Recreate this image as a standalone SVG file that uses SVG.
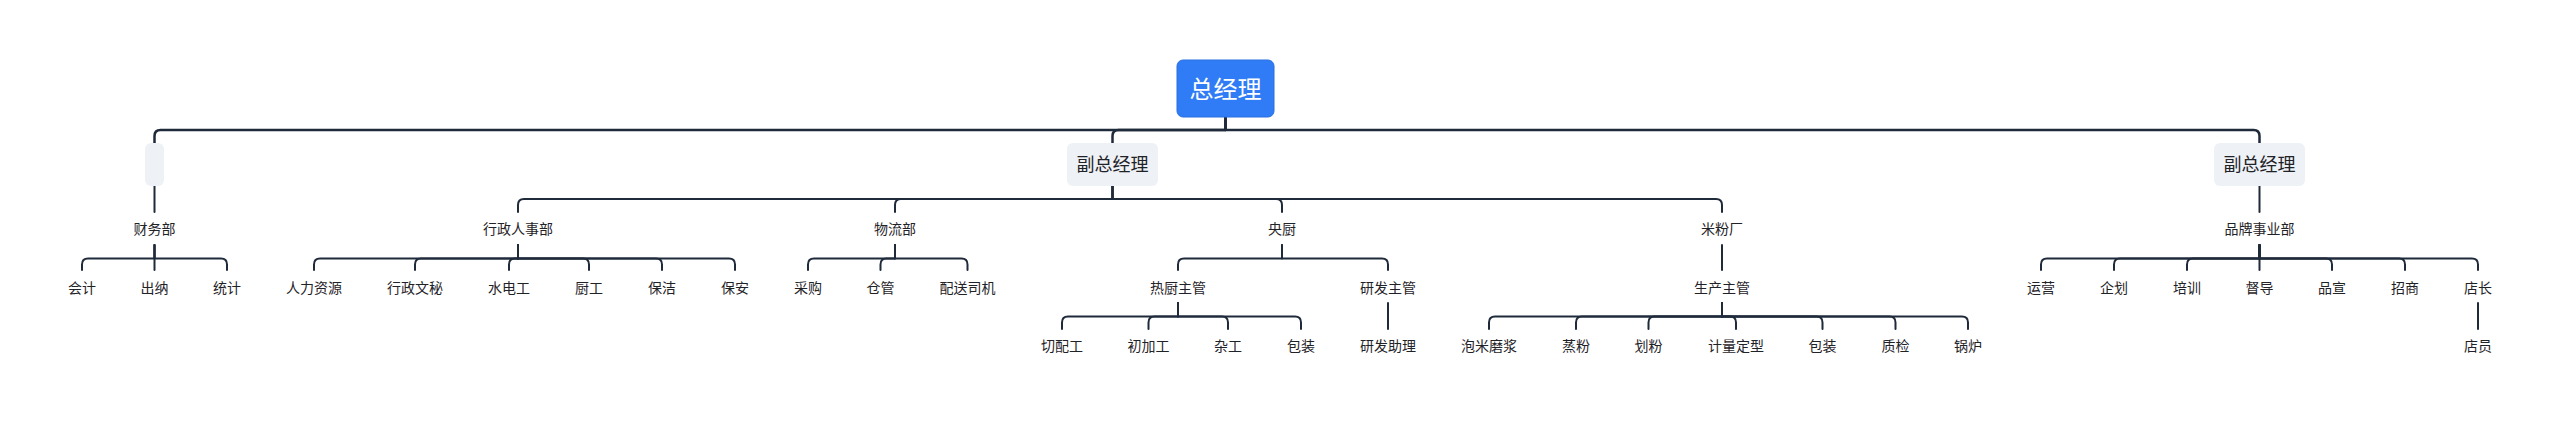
<svg xmlns="http://www.w3.org/2000/svg" width="2560" height="423" viewBox="0 0 2560 423">
<style>
.bg{fill:#ffffff}
.edge{fill:none;stroke:#1f2a3b;stroke-width:2;stroke-linecap:round;stroke-linejoin:round}
.edge0{stroke-width:2.5}
.root{fill:#2f7cf6;stroke:#2a6fe0;stroke-width:1}
.sub{fill:#eef1f5}
.t{font-family:"Noto Sans CJK SC","Noto Sans",sans-serif;fill:#1f2328;text-anchor:middle}
.t24{font-size:24px;fill:#ffffff}
.t18{font-size:18px}
.t14{font-size:14px}
</style>
<rect class="bg" x="0" y="0" width="2560" height="423"/>
<g id="connectors">
<path class="edge edge0" d="M1225.5 117 V130 H160.5 Q154.5 130 154.5 136 V143"/>
<path class="edge edge0" d="M1225.5 117 V130 H1118.5 Q1112.5 130 1112.5 136 V143"/>
<path class="edge edge0" d="M1225.5 117 V130 H2253.5 Q2259.5 130 2259.5 136 V143"/>
<path class="edge" d="M154.5 186 V212"/>
<path class="edge" d="M1112.5 186 V199 H524 Q518 199 518 205 V212"/>
<path class="edge" d="M1112.5 186 V199 H901 Q895 199 895 205 V212"/>
<path class="edge" d="M1112.5 186 V199 H1276 Q1282 199 1282 205 V212"/>
<path class="edge" d="M1112.5 186 V199 H1716 Q1722 199 1722 205 V212"/>
<path class="edge" d="M2259.5 186 V212"/>
<path class="edge" d="M154.5 245 V258.5 H88 Q82 258.5 82 264.5 V270"/>
<path class="edge" d="M154.5 245 V270"/>
<path class="edge" d="M154.5 245 V258.5 H221 Q227 258.5 227 264.5 V270"/>
<path class="edge" d="M518 245 V258.5 H320 Q314 258.5 314 264.5 V270"/>
<path class="edge" d="M518 245 V258.5 H421 Q415 258.5 415 264.5 V270"/>
<path class="edge" d="M518 245 V258.5 H515 Q509 258.5 509 264.5 V270"/>
<path class="edge" d="M518 245 V258.5 H583 Q589 258.5 589 264.5 V270"/>
<path class="edge" d="M518 245 V258.5 H656 Q662 258.5 662 264.5 V270"/>
<path class="edge" d="M518 245 V258.5 H729 Q735 258.5 735 264.5 V270"/>
<path class="edge" d="M895 245 V258.5 H814 Q808 258.5 808 264.5 V270"/>
<path class="edge" d="M895 245 V258.5 H886.5 Q880.5 258.5 880.5 264.5 V270"/>
<path class="edge" d="M895 245 V258.5 H961.5 Q967.5 258.5 967.5 264.5 V270"/>
<path class="edge" d="M1282 245 V258.5 H1184 Q1178 258.5 1178 264.5 V270"/>
<path class="edge" d="M1282 245 V258.5 H1382 Q1388 258.5 1388 264.5 V270"/>
<path class="edge" d="M1722 245 V270"/>
<path class="edge" d="M2259.5 245 V258.5 H2047 Q2041 258.5 2041 264.5 V270"/>
<path class="edge" d="M2259.5 245 V258.5 H2120 Q2114 258.5 2114 264.5 V270"/>
<path class="edge" d="M2259.5 245 V258.5 H2193 Q2187 258.5 2187 264.5 V270"/>
<path class="edge" d="M2259.5 245 V270"/>
<path class="edge" d="M2259.5 245 V258.5 H2326 Q2332 258.5 2332 264.5 V270"/>
<path class="edge" d="M2259.5 245 V258.5 H2399 Q2405 258.5 2405 264.5 V270"/>
<path class="edge" d="M2259.5 245 V258.5 H2472 Q2478 258.5 2478 264.5 V270"/>
<path class="edge" d="M1178 303 V316.5 H1068 Q1062 316.5 1062 322.5 V329"/>
<path class="edge" d="M1178 303 V316.5 H1154.5 Q1148.5 316.5 1148.5 322.5 V329"/>
<path class="edge" d="M1178 303 V316.5 H1222 Q1228 316.5 1228 322.5 V329"/>
<path class="edge" d="M1178 303 V316.5 H1295 Q1301 316.5 1301 322.5 V329"/>
<path class="edge" d="M1388 303 V329"/>
<path class="edge" d="M1722 303 V316.5 H1495 Q1489 316.5 1489 322.5 V329"/>
<path class="edge" d="M1722 303 V316.5 H1582 Q1576 316.5 1576 322.5 V329"/>
<path class="edge" d="M1722 303 V316.5 H1654.5 Q1648.5 316.5 1648.5 322.5 V329"/>
<path class="edge" d="M1722 303 V316.5 H1730 Q1736 316.5 1736 322.5 V329"/>
<path class="edge" d="M1722 303 V316.5 H1816.5 Q1822.5 316.5 1822.5 322.5 V329"/>
<path class="edge" d="M1722 303 V316.5 H1889.5 Q1895.5 316.5 1895.5 322.5 V329"/>
<path class="edge" d="M1722 303 V316.5 H1962 Q1968 316.5 1968 322.5 V329"/>
<path class="edge" d="M2478 303 V329"/>
</g>
<g id="n-root"><rect class="root" x="1177" y="60" width="97" height="57" rx="6"/><text class="t t24" x="1225.5" y="97.5">总经理</text></g>
<g id="n-empty"><rect class="sub" x="145" y="143" width="19" height="43" rx="6"/></g>
<g id="n-vp1"><rect class="sub" x="1067" y="143" width="91" height="43" rx="6"/><text class="t t18" x="1112.5" y="171.3">副总经理</text></g>
<g id="n-vp2"><rect class="sub" x="2214" y="143" width="91" height="43" rx="6"/><text class="t t18" x="2259.5" y="171.3">副总经理</text></g>
<g id="n-caiwu"><text class="t t14" x="154.5" y="234.3">财务部</text></g>
<g id="n-xingzheng"><text class="t t14" x="518" y="234.3">行政人事部</text></g>
<g id="n-wuliu"><text class="t t14" x="895" y="234.3">物流部</text></g>
<g id="n-yangchu"><text class="t t14" x="1282" y="234.3">央厨</text></g>
<g id="n-mifen"><text class="t t14" x="1722" y="234.3">米粉厂</text></g>
<g id="n-pinpai"><text class="t t14" x="2259.5" y="234.3">品牌事业部</text></g>
<g id="n-kuaiji"><text class="t t14" x="82" y="293.3">会计</text></g>
<g id="n-chuna"><text class="t t14" x="154.5" y="293.3">出纳</text></g>
<g id="n-tongji"><text class="t t14" x="227" y="293.3">统计</text></g>
<g id="n-renli"><text class="t t14" x="314" y="293.3">人力资源</text></g>
<g id="n-wenmi"><text class="t t14" x="415" y="293.3">行政文秘</text></g>
<g id="n-shuidian"><text class="t t14" x="509" y="293.3">水电工</text></g>
<g id="n-chugong"><text class="t t14" x="589" y="293.3">厨工</text></g>
<g id="n-baojie"><text class="t t14" x="662" y="293.3">保洁</text></g>
<g id="n-baoan"><text class="t t14" x="735" y="293.3">保安</text></g>
<g id="n-caigou"><text class="t t14" x="808" y="293.3">采购</text></g>
<g id="n-cangguan"><text class="t t14" x="880.5" y="293.3">仓管</text></g>
<g id="n-peisong"><text class="t t14" x="967.5" y="293.3">配送司机</text></g>
<g id="n-rechu"><text class="t t14" x="1178" y="293.3">热厨主管</text></g>
<g id="n-yanfa"><text class="t t14" x="1388" y="293.3">研发主管</text></g>
<g id="n-shengchan"><text class="t t14" x="1722" y="293.3">生产主管</text></g>
<g id="n-yunying"><text class="t t14" x="2041" y="293.3">运营</text></g>
<g id="n-qihua"><text class="t t14" x="2114" y="293.3">企划</text></g>
<g id="n-peixun"><text class="t t14" x="2187" y="293.3">培训</text></g>
<g id="n-dudao"><text class="t t14" x="2259.5" y="293.3">督导</text></g>
<g id="n-pinxuan"><text class="t t14" x="2332" y="293.3">品宣</text></g>
<g id="n-zhaoshang"><text class="t t14" x="2405" y="293.3">招商</text></g>
<g id="n-dianzhang"><text class="t t14" x="2478" y="293.3">店长</text></g>
<g id="n-qiepei"><text class="t t14" x="1062" y="351.3">切配工</text></g>
<g id="n-chujia"><text class="t t14" x="1148.5" y="351.3">初加工</text></g>
<g id="n-zagong"><text class="t t14" x="1228" y="351.3">杂工</text></g>
<g id="n-baozhuang1"><text class="t t14" x="1301" y="351.3">包装</text></g>
<g id="n-yanfazhuli"><text class="t t14" x="1388" y="351.3">研发助理</text></g>
<g id="n-paomi"><text class="t t14" x="1489" y="351.3">泡米磨浆</text></g>
<g id="n-zhengfen"><text class="t t14" x="1576" y="351.3">蒸粉</text></g>
<g id="n-huafen"><text class="t t14" x="1648.5" y="351.3">划粉</text></g>
<g id="n-jiliang"><text class="t t14" x="1736" y="351.3">计量定型</text></g>
<g id="n-baozhuang2"><text class="t t14" x="1822.5" y="351.3">包装</text></g>
<g id="n-zhijian"><text class="t t14" x="1895.5" y="351.3">质检</text></g>
<g id="n-guolu"><text class="t t14" x="1968" y="351.3">锅炉</text></g>
<g id="n-dianyuan"><text class="t t14" x="2478" y="351.3">店员</text></g>
</svg>
